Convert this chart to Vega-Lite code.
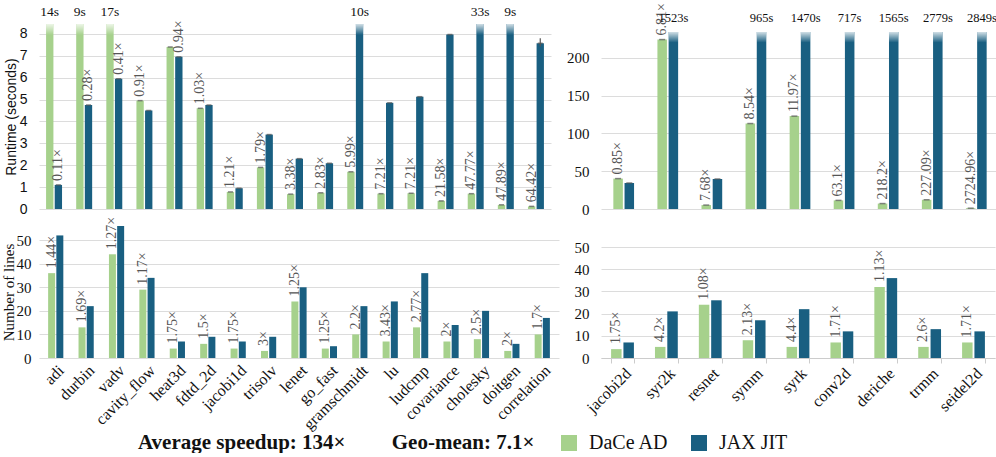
{
"$schema": "https://vega.github.io/schema/vega-lite/v6.json",
"padding": {"left": 1, "top": 3, "right": 0, "bottom": 0},
"datasets": {"d": [
{"b":"adi","g":"L","m":"rt","s":"DaCe AD","v":14,"top":"14s"},
{"b":"adi","g":"L","m":"rt","s":"JAX JIT","v":1.1,"lab":"0.11×"},
{"b":"durbin","g":"L","m":"rt","s":"DaCe AD","v":9,"top":"9s"},
{"b":"durbin","g":"L","m":"rt","s":"JAX JIT","v":4.75,"lab":"0.28×"},
{"b":"vadv","g":"L","m":"rt","s":"DaCe AD","v":17,"top":"17s"},
{"b":"vadv","g":"L","m":"rt","s":"JAX JIT","v":5.95,"lab":"0.41×"},
{"b":"cavity_flow","g":"L","m":"rt","s":"DaCe AD","v":4.95,"lab":"0.91×"},
{"b":"cavity_flow","g":"L","m":"rt","s":"JAX JIT","v":4.5},
{"b":"heat3d","g":"L","m":"rt","s":"DaCe AD","v":7.4},
{"b":"heat3d","g":"L","m":"rt","s":"JAX JIT","v":6.95,"lab":"0.94×"},
{"b":"fdtd_2d","g":"L","m":"rt","s":"DaCe AD","v":4.6,"lab":"1.03×"},
{"b":"fdtd_2d","g":"L","m":"rt","s":"JAX JIT","v":4.75},
{"b":"jacobi1d","g":"L","m":"rt","s":"DaCe AD","v":0.78,"lab":"1.21×"},
{"b":"jacobi1d","g":"L","m":"rt","s":"JAX JIT","v":0.95},
{"b":"trisolv","g":"L","m":"rt","s":"DaCe AD","v":1.9,"lab":"1.79×"},
{"b":"trisolv","g":"L","m":"rt","s":"JAX JIT","v":3.4},
{"b":"lenet","g":"L","m":"rt","s":"DaCe AD","v":0.68,"lab":"3.38×"},
{"b":"lenet","g":"L","m":"rt","s":"JAX JIT","v":2.3},
{"b":"go_fast","g":"L","m":"rt","s":"DaCe AD","v":0.74,"lab":"2.83×"},
{"b":"go_fast","g":"L","m":"rt","s":"JAX JIT","v":2.09},
{"b":"gramschmidt","g":"L","m":"rt","s":"DaCe AD","v":1.7,"lab":"5.99×"},
{"b":"gramschmidt","g":"L","m":"rt","s":"JAX JIT","v":10,"top":"10s"},
{"b":"lu","g":"L","m":"rt","s":"DaCe AD","v":0.7,"lab":"7.21×"},
{"b":"lu","g":"L","m":"rt","s":"JAX JIT","v":4.85},
{"b":"ludcmp","g":"L","m":"rt","s":"DaCe AD","v":0.72,"lab":"7.21×"},
{"b":"ludcmp","g":"L","m":"rt","s":"JAX JIT","v":5.13},
{"b":"covariance","g":"L","m":"rt","s":"DaCe AD","v":0.37,"lab":"21.58×"},
{"b":"covariance","g":"L","m":"rt","s":"JAX JIT","v":7.97},
{"b":"cholesky","g":"L","m":"rt","s":"DaCe AD","v":0.7,"lab":"47.77×"},
{"b":"cholesky","g":"L","m":"rt","s":"JAX JIT","v":33,"top":"33s"},
{"b":"doitgen","g":"L","m":"rt","s":"DaCe AD","v":0.19,"lab":"47.89×"},
{"b":"doitgen","g":"L","m":"rt","s":"JAX JIT","v":9,"top":"9s"},
{"b":"correlation","g":"L","m":"rt","s":"DaCe AD","v":0.12,"lab":"64.42×"},
{"b":"correlation","g":"L","m":"rt","s":"JAX JIT","v":7.57,"lo":7.42,"hi":7.8},
{"b":"jacobi2d","g":"R","m":"rt","s":"DaCe AD","v":40.2,"lab":"0.85×"},
{"b":"jacobi2d","g":"R","m":"rt","s":"JAX JIT","v":34.4},
{"b":"syr2k","g":"R","m":"rt","s":"DaCe AD","v":224,"lab":"6.81×"},
{"b":"syr2k","g":"R","m":"rt","s":"JAX JIT","v":1523,"top":"1523s"},
{"b":"resnet","g":"R","m":"rt","s":"DaCe AD","v":5.2,"lab":"7.68×"},
{"b":"resnet","g":"R","m":"rt","s":"JAX JIT","v":39.7},
{"b":"symm","g":"R","m":"rt","s":"DaCe AD","v":113,"lab":"8.54×"},
{"b":"symm","g":"R","m":"rt","s":"JAX JIT","v":965,"top":"965s"},
{"b":"syrk","g":"R","m":"rt","s":"DaCe AD","v":122.8,"lab":"11.97×"},
{"b":"syrk","g":"R","m":"rt","s":"JAX JIT","v":1470,"top":"1470s"},
{"b":"conv2d","g":"R","m":"rt","s":"DaCe AD","v":11.4,"lab":"63.1×"},
{"b":"conv2d","g":"R","m":"rt","s":"JAX JIT","v":717,"top":"717s"},
{"b":"deriche","g":"R","m":"rt","s":"DaCe AD","v":7.2,"lab":"218.2×"},
{"b":"deriche","g":"R","m":"rt","s":"JAX JIT","v":1565,"top":"1565s"},
{"b":"trmm","g":"R","m":"rt","s":"DaCe AD","v":12.2,"lab":"227.09×"},
{"b":"trmm","g":"R","m":"rt","s":"JAX JIT","v":2779,"top":"2779s"},
{"b":"seidel2d","g":"R","m":"rt","s":"DaCe AD","v":1.05,"lab":"2724.96×"},
{"b":"seidel2d","g":"R","m":"rt","s":"JAX JIT","v":2849,"top":"2849s"},
{"b":"adi","g":"L","m":"ln","s":"DaCe AD","v":36,"lab":"1.44×"},
{"b":"adi","g":"L","m":"ln","s":"JAX JIT","v":52},
{"b":"durbin","g":"L","m":"ln","s":"DaCe AD","v":13,"lab":"1.69×"},
{"b":"durbin","g":"L","m":"ln","s":"JAX JIT","v":22},
{"b":"vadv","g":"L","m":"ln","s":"DaCe AD","v":44,"lab":"1.27×"},
{"b":"vadv","g":"L","m":"ln","s":"JAX JIT","v":56},
{"b":"cavity_flow","g":"L","m":"ln","s":"DaCe AD","v":29,"lab":"1.17×"},
{"b":"cavity_flow","g":"L","m":"ln","s":"JAX JIT","v":34},
{"b":"heat3d","g":"L","m":"ln","s":"DaCe AD","v":4,"lab":"1.75×"},
{"b":"heat3d","g":"L","m":"ln","s":"JAX JIT","v":7},
{"b":"fdtd_2d","g":"L","m":"ln","s":"DaCe AD","v":6,"lab":"1.5×"},
{"b":"fdtd_2d","g":"L","m":"ln","s":"JAX JIT","v":9},
{"b":"jacobi1d","g":"L","m":"ln","s":"DaCe AD","v":4,"lab":"1.75×"},
{"b":"jacobi1d","g":"L","m":"ln","s":"JAX JIT","v":7},
{"b":"trisolv","g":"L","m":"ln","s":"DaCe AD","v":3,"lab":"3×"},
{"b":"trisolv","g":"L","m":"ln","s":"JAX JIT","v":9},
{"b":"lenet","g":"L","m":"ln","s":"DaCe AD","v":24,"lab":"1.25×"},
{"b":"lenet","g":"L","m":"ln","s":"JAX JIT","v":30},
{"b":"go_fast","g":"L","m":"ln","s":"DaCe AD","v":4,"lab":"1.25×"},
{"b":"go_fast","g":"L","m":"ln","s":"JAX JIT","v":5},
{"b":"gramschmidt","g":"L","m":"ln","s":"DaCe AD","v":10,"lab":"2.2×"},
{"b":"gramschmidt","g":"L","m":"ln","s":"JAX JIT","v":22},
{"b":"lu","g":"L","m":"ln","s":"DaCe AD","v":7,"lab":"3.43×"},
{"b":"lu","g":"L","m":"ln","s":"JAX JIT","v":24},
{"b":"ludcmp","g":"L","m":"ln","s":"DaCe AD","v":13,"lab":"2.77×"},
{"b":"ludcmp","g":"L","m":"ln","s":"JAX JIT","v":36},
{"b":"covariance","g":"L","m":"ln","s":"DaCe AD","v":7,"lab":"2×"},
{"b":"covariance","g":"L","m":"ln","s":"JAX JIT","v":14},
{"b":"cholesky","g":"L","m":"ln","s":"DaCe AD","v":8,"lab":"2.5×"},
{"b":"cholesky","g":"L","m":"ln","s":"JAX JIT","v":20},
{"b":"doitgen","g":"L","m":"ln","s":"DaCe AD","v":3,"lab":"2×"},
{"b":"doitgen","g":"L","m":"ln","s":"JAX JIT","v":6},
{"b":"correlation","g":"L","m":"ln","s":"DaCe AD","v":10,"lab":"1.7×"},
{"b":"correlation","g":"L","m":"ln","s":"JAX JIT","v":17},
{"b":"jacobi2d","g":"R","m":"ln","s":"DaCe AD","v":4,"lab":"1.75×"},
{"b":"jacobi2d","g":"R","m":"ln","s":"JAX JIT","v":7},
{"b":"syr2k","g":"R","m":"ln","s":"DaCe AD","v":5,"lab":"4.2×"},
{"b":"syr2k","g":"R","m":"ln","s":"JAX JIT","v":21},
{"b":"resnet","g":"R","m":"ln","s":"DaCe AD","v":24,"lab":"1.08×"},
{"b":"resnet","g":"R","m":"ln","s":"JAX JIT","v":26},
{"b":"symm","g":"R","m":"ln","s":"DaCe AD","v":8,"lab":"2.13×"},
{"b":"symm","g":"R","m":"ln","s":"JAX JIT","v":17},
{"b":"syrk","g":"R","m":"ln","s":"DaCe AD","v":5,"lab":"4.4×"},
{"b":"syrk","g":"R","m":"ln","s":"JAX JIT","v":22},
{"b":"conv2d","g":"R","m":"ln","s":"DaCe AD","v":7,"lab":"1.71×"},
{"b":"conv2d","g":"R","m":"ln","s":"JAX JIT","v":12},
{"b":"deriche","g":"R","m":"ln","s":"DaCe AD","v":32,"lab":"1.13×"},
{"b":"deriche","g":"R","m":"ln","s":"JAX JIT","v":36},
{"b":"trmm","g":"R","m":"ln","s":"DaCe AD","v":5,"lab":"2.6×"},
{"b":"trmm","g":"R","m":"ln","s":"JAX JIT","v":13},
{"b":"seidel2d","g":"R","m":"ln","s":"DaCe AD","v":7,"lab":"1.71×"},
{"b":"seidel2d","g":"R","m":"ln","s":"JAX JIT","v":12}
]},
"data": {"name": "d"},
"columns": 2,
"bounds": "flush",
"align": "none",
"spacing": {"row": 17, "column": 42},
"resolve": {"scale": {"color": "shared", "x": "independent", "y": "independent", "xOffset": "independent"}, "legend": {"color": "shared"}},
"concat": [
{
 "width": 512, "height": 185,
 "transform": [{"filter": "datum.g == 'L' && datum.m == 'rt'"}],
 "encoding": {
  "x": {"field": "b", "type": "nominal", "sort": null, "scale": {"paddingInner": 0.47, "paddingOuter": 0.235}, "axis": {"title": null, "labels": false, "ticks": false, "domain": false}},
  "xOffset": {"field": "s", "type": "nominal", "scale": {"paddingInner": 0.15}},
  "y": {"field": "v", "type": "quantitative", "scale": {"domain": [0, 8.45], "clamp": true, "nice": false}, "axis": {"title": "Runtime (seconds)", "values": [0,1,2,3,4,5,6,7,8], "labelFont": "Liberation Sans", "labelFontSize": 14, "labelPadding": 12, "titleFont": "Liberation Sans", "titleFontSize": 14, "titlePadding": 1}}
 },
 "layer": [
  {"mark": {"type": "bar"}, "encoding": {"color": {"field": "s", "type": "nominal", "scale": {"domain": ["DaCe AD", "JAX JIT"], "range": ["#a6d18c", "#195f81"]}, "legend": {"title": "Average speedup: 134×\u2003\u2003\u2009Geo-mean: 7.1×"}}}},
  {"transform": [{"filter": "datum.top"}], "mark": {"type": "bar", "color": {"gradient": "linear", "x1": 0, "y1": 0, "x2": 0, "y2": 1, "stops": [{"offset": 0, "color": "rgba(255,255,255,0.8)"}, {"offset": 1, "color": "rgba(255,255,255,0)"}]}}, "encoding": {"y2": {"datum": 7.95}}},
  {"transform": [{"filter": "!datum.top"}], "mark": {"type": "tick", "color": "#555", "thickness": 1.5, "size": 5}},
  {"transform": [{"filter": "datum.lo"}], "mark": {"type": "rule", "color": "#555", "strokeWidth": 1.2}, "encoding": {"y": {"field": "lo", "type": "quantitative"}, "y2": {"field": "hi"}}},
  {"transform": [{"filter": "datum.lab"}], "mark": {"type": "text", "angle": -90, "align": "left", "baseline": "middle", "dx": 4, "font": "Liberation Serif", "fontSize": 14, "color": "#555"}, "encoding": {"text": {"field": "lab"}}},
  {"transform": [{"filter": "datum.top"}], "mark": {"type": "text", "baseline": "bottom", "dy": -5, "font": "Liberation Serif", "fontSize": 13.5, "color": "#111"}, "encoding": {"text": {"field": "top"}}}
 ]
},
{
 "width": 398, "height": 185,
 "transform": [{"filter": "datum.g == 'R' && datum.m == 'rt'"}],
 "encoding": {
  "x": {"field": "b", "type": "nominal", "sort": null, "scale": {"paddingInner": 0.53, "paddingOuter": 0.28}, "axis": {"title": null, "labels": false, "ticks": false, "domain": false}},
  "xOffset": {"field": "s", "type": "nominal", "scale": {"paddingInner": 0.15}},
  "y": {"field": "v", "type": "quantitative", "scale": {"domain": [0, 234], "range": [185, 8], "clamp": true, "nice": false}, "axis": {"title": null, "values": [0,50,100,150,200], "labelPadding": 12}}
 },
 "layer": [
  {"mark": {"type": "bar"}, "encoding": {"color": {"field": "s", "type": "nominal", "scale": {"domain": ["DaCe AD", "JAX JIT"], "range": ["#a6d18c", "#195f81"]}, "legend": {"title": "Average speedup: 134×\u2003\u2003\u2009Geo-mean: 7.1×"}}}},
  {"transform": [{"filter": "datum.top"}], "mark": {"type": "bar", "color": {"gradient": "linear", "x1": 0, "y1": 0, "x2": 0, "y2": 1, "stops": [{"offset": 0, "color": "rgba(255,255,255,0.8)"}, {"offset": 1, "color": "rgba(255,255,255,0)"}]}}, "encoding": {"y2": {"datum": 220}}},
  {"transform": [{"filter": "!datum.top"}], "mark": {"type": "tick", "color": "#555", "thickness": 1.5, "size": 6}},
  {"transform": [{"filter": "datum.lab"}], "mark": {"type": "text", "angle": -90, "align": "left", "baseline": "middle", "dx": 4, "font": "Liberation Serif", "fontSize": 14, "color": "#555"}, "encoding": {"text": {"field": "lab"}}},
  {"transform": [{"filter": "datum.top"}], "mark": {"type": "text", "baseline": "bottom", "dy": -7, "font": "Liberation Serif", "fontSize": 12.5, "color": "#111"}, "encoding": {"text": {"field": "top"}}}
 ]
},
{
 "width": 520, "height": 132,
 "transform": [{"filter": "datum.g == 'L' && datum.m == 'ln'"}],
 "encoding": {
  "x": {"field": "b", "type": "nominal", "sort": null, "scale": {"paddingInner": 0.5, "paddingOuter": 0.3}, "axis": {"title": null, "labelAngle": -45, "labelFontSize": 16, "ticks": false, "domain": false, "labelPadding": 4}},
  "xOffset": {"field": "s", "type": "nominal", "scale": {"paddingInner": 0.15}},
  "y": {"field": "v", "type": "quantitative", "scale": {"domain": [0, 56], "nice": false}, "axis": {"title": "Number of lines", "values": [0,10,20,30,40,50], "labelPadding": 8, "titleFontSize": 15, "titlePadding": 0}}
 },
 "layer": [
  {"mark": {"type": "bar"}, "encoding": {"color": {"field": "s", "type": "nominal", "scale": {"domain": ["DaCe AD", "JAX JIT"], "range": ["#a6d18c", "#195f81"]}, "legend": {"title": "Average speedup: 134×\u2003\u2003\u2009Geo-mean: 7.1×"}}}},
  {"transform": [{"filter": "datum.lab"}], "mark": {"type": "text", "angle": -90, "align": "left", "baseline": "middle", "dx": 5, "font": "Liberation Serif", "fontSize": 14, "color": "#555"}, "encoding": {"text": {"field": "lab"}}}
 ]
},
{
 "width": 394, "height": 132,
 "transform": [{"filter": "datum.g == 'R' && datum.m == 'ln'"}],
 "encoding": {
  "x": {"field": "b", "type": "nominal", "sort": null, "scale": {"paddingInner": 0.48, "paddingOuter": 0.23}, "axis": {"title": null, "labelAngle": -45, "labelFontSize": 16, "ticks": true, "tickBand": "extent", "tickSize": 5, "tickColor": "#ccc", "domain": true, "domainColor": "#ccc", "labelPadding": 2}},
  "xOffset": {"field": "s", "type": "nominal", "scale": {"paddingInner": 0.15}},
  "y": {"field": "v", "type": "quantitative", "scale": {"domain": [0, 56], "range": [132, 7.7], "nice": false}, "axis": {"title": null, "values": [0,10,20,30,40,50], "labelPadding": 12}}
 },
 "layer": [
  {"mark": {"type": "bar"}, "encoding": {"color": {"field": "s", "type": "nominal", "scale": {"domain": ["DaCe AD", "JAX JIT"], "range": ["#a6d18c", "#195f81"]}, "legend": {"title": "Average speedup: 134×\u2003\u2003\u2009Geo-mean: 7.1×"}}}},
  {"transform": [{"filter": "datum.lab"}], "mark": {"type": "text", "angle": -90, "align": "left", "baseline": "middle", "dx": 5, "font": "Liberation Serif", "fontSize": 14, "color": "#555"}, "encoding": {"text": {"field": "lab"}}}
 ]
}
],
"config": {
 "view": {"stroke": null},
 "font": "Liberation Serif",
 "axis": {"labelFont": "Liberation Serif", "labelFontSize": 15, "labelColor": "#111", "titleFont": "Liberation Serif", "titleFontWeight": "normal", "titleColor": "#111", "grid": true, "gridColor": "#dcdcdc", "gridWidth": 1, "domain": false, "ticks": false},
 "axisX": {"grid": false},
 "legend": {"orient": "none", "legendX": 99, "legendY": 409, "direction": "horizontal", "titleOrient": "left", "titleFont": "Liberation Serif", "titleFontSize": 21, "titleFontWeight": "bold", "titleColor": "#111", "titlePadding": 24, "titleLimit": 500, "labelFont": "Liberation Serif", "labelFontSize": 20, "labelColor": "#111", "symbolType": "square", "symbolSize": 256, "symbolStrokeWidth": 0, "symbolOpacity": 1, "columnPadding": 20, "labelOffset": 10}
}
}
